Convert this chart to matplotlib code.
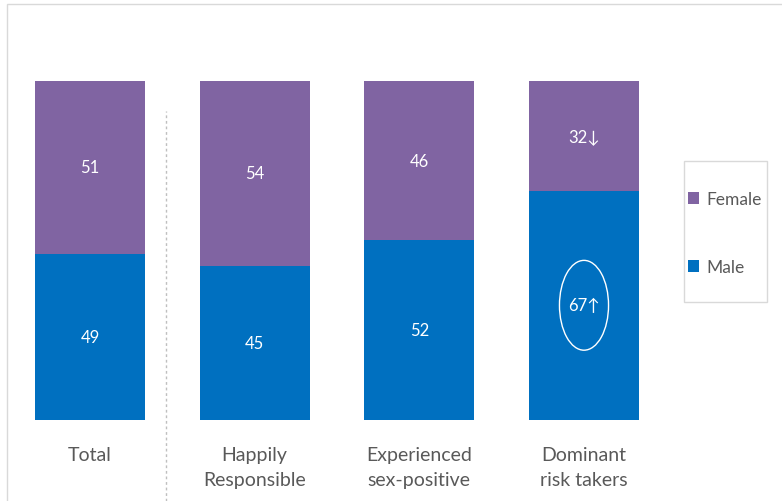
import matplotlib.pyplot as plt
from matplotlib.patches import Ellipse, Rectangle
from matplotlib.lines import Line2D
import numpy as np

plt.rcParams['font.family'] = ['Lato', 'DejaVu Sans']

categories = ['Total', 'Happily\nResponsible', 'Experienced\nsex-positive', 'Dominant\nrisk takers']
male = [49, 45, 52, 67]
female = [51, 54, 46, 32]
male_labels = ['49', '45', '52', '67\u2191']
female_labels = ['51', '54', '46', '32\u2193']

c_male = '#0070C0'
c_female = '#8064A2'
grey = '#595959'

# 100% stacked: shares of each bar
tot = np.array(male) + np.array(female)
m_sh = np.array(male) / tot * 100
f_sh = np.array(female) / tot * 100

W, H = 782, 502
fig = plt.figure(figsize=(W / 100, H / 100), dpi=100)
# axes covers the bar area: x 35..639 px, y 82..421 px
ax = fig.add_axes([35 / W, (H - 421) / H, (639 - 35) / W, (421 - 82) / H])

x = np.arange(len(categories))
bw = 0.668
b_m = ax.bar(x, m_sh, bw, color=c_male, label='Male')
b_f = ax.bar(x, f_sh, bw, bottom=m_sh, color=c_female, label='Female')

for i in range(len(x)):
    ax.text(x[i], m_sh[i] / 2, male_labels[i], ha='center', va='center',
            color='white', fontsize=12)
    ax.text(x[i], m_sh[i] + f_sh[i] / 2, female_labels[i], ha='center',
            va='center', color='white', fontsize=12)

# highlight circle around the dominant risk takers male value
ax.add_patch(Ellipse((3, m_sh[3] / 2), 0.298, 26.5, fill=False,
                     edgecolor='white', lw=1))

ax.set_xlim(-bw / 2, 3 + bw / 2)
ax.set_ylim(0, 100)
ax.set_xticks(x)
ax.set_xticklabels(categories, color=grey, fontsize=14, linespacing=1.55)
ax.tick_params(axis='x', length=0, pad=19)
ax.set_yticks([])
for s in ax.spines.values():
    s.set_visible(False)

# outer frame and dashed separator
fig.add_artist(Rectangle((7 / W, -0.1), 1.2, 1 - 5 / H + 0.1, transform=fig.transFigure,
                         fill=False, edgecolor='#D9D9D9', lw=1))
fig.add_artist(Line2D([166 / W, 166 / W], [0, 1 - 112 / H], transform=fig.transFigure,
                      color='#BFBFBF', lw=1, ls=(0, (2, 2))))

# legend box
fig.add_artist(Rectangle((684 / W, 1 - 303 / H), 83 / W, 141 / H, transform=fig.transFigure,
                         fill=False, edgecolor='#D9D9D9', lw=1))
leg = ax.legend(handles=[b_f, b_m], loc='center', bbox_to_anchor=(725 / W, 1 - 234 / H),
                bbox_transform=fig.transFigure, frameon=False,
                fontsize=12.5, labelcolor=grey,
                handlelength=0.65, handleheight=0.65, handletextpad=0.4,
                labelspacing=3.0, borderpad=0)

fig.savefig('out.png', dpi=100)
